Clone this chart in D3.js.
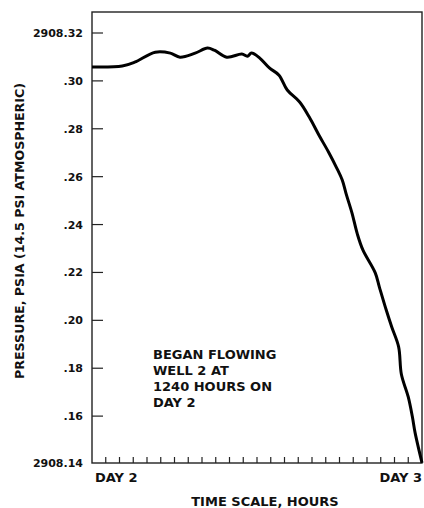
<!DOCTYPE html>
<html>
<head>
<meta charset="utf-8">
<script src="https://cdn.jsdelivr.net/npm/d3@7"></script>
<style>
  html, body { margin: 0; padding: 0; background: #fff; }
  svg { display: block; }
  text { font-family: "DejaVu Sans", "Liberation Sans", sans-serif; font-weight: bold; fill: #111; }
</style>
</head>
<body>
<svg id="chart" width="424" height="508"></svg>
<script>
// Data (hours after start of DAY 2, pressure fraction above 2908 psia)
const hours = [0, 2.2, 3.1, 4.6, 5.7, 6.4, 7.5, 8.4, 8.9, 9.8, 10.9, 11.3, 11.6, 12.2, 12.9, 13.6, 14.2, 15.1, 15.8, 16.5, 17.2, 17.8, 18.2, 18.5, 18.9, 19.3, 19.7, 20.6, 20.9, 21.4, 21.8, 22.3, 22.5, 23.0, 23.3, 23.5, 24.0];
const pressure = [0.3058, 0.3062, 0.3078, 0.3120, 0.3116, 0.3099, 0.3116, 0.3137, 0.3128, 0.3099, 0.3112, 0.3103, 0.3116, 0.3095, 0.3054, 0.3024, 0.2962, 0.2912, 0.2849, 0.2774, 0.2703, 0.2636, 0.2586, 0.2525, 0.2450, 0.2360, 0.2294, 0.2198, 0.2139, 0.2043, 0.1972, 0.1889, 0.1775, 0.1680, 0.1597, 0.1530, 0.1405];
const yTickValues = [0.32, 0.30, 0.28, 0.26, 0.24, 0.22, 0.20, 0.18, 0.16, 0.14];
const yTickLabels = ["2908.32", ".30", ".28", ".26", ".24", ".22", ".20", ".18", ".16", "2908.14"];
const xTickValues = d3.range(1, 24);
const xEndLabels = ["DAY 2", "DAY 3"];
const noteLines = ["BEGAN FLOWING", "WELL 2 AT", "1240 HOURS ON", "DAY 2"];
const xTitle = "TIME SCALE, HOURS";
const yTitle = "PRESSURE, PSIA (14.5 PSI ATMOSPHERIC)";

(function () {
const svg = d3.select("#chart");
const pLeft = 92, pRight = 422, pTop = 12, pBottom = 463;

const x = d3.scaleLinear().domain([0, 24]).range([pLeft, pRight]);
const y = d3.scaleLinear().domain([0.14, 0.32]).range([464, 33]);

// frame
svg.append("rect")
  .attr("x", pLeft).attr("y", pTop)
  .attr("width", pRight - pLeft).attr("height", pBottom - pTop)
  .attr("fill", "none").attr("stroke", "#222").attr("stroke-width", 1.4);

// y ticks (inward)
svg.selectAll(".ytick").data(yTickValues.slice(0, -1)).join("line")
  .attr("class", "ytick")
  .attr("x1", pLeft).attr("x2", pLeft + 11)
  .attr("y1", d => y(d)).attr("y2", d => y(d))
  .attr("stroke", "#222").attr("stroke-width", 1.2);

svg.selectAll(".ylab").data(yTickValues).join("text")
  .attr("class", "ylab")
  .attr("x", 83)
  .attr("y", (d, i) => i === yTickValues.length - 1 ? pBottom : y(d))
  .attr("dy", "0.36em")
  .attr("text-anchor", "end")
  .attr("font-size", 11)
  .text((d, i) => yTickLabels[i]);

// x ticks (inward, upward)
svg.selectAll(".xtick").data(xTickValues).join("line")
  .attr("class", "xtick")
  .attr("x1", d => x(d)).attr("x2", d => x(d))
  .attr("y1", pBottom).attr("y2", pBottom - 6)
  .attr("stroke", "#222").attr("stroke-width", 1.2);

svg.append("text").attr("x", x(0) + 3).attr("y", 482)
  .attr("font-size", 13).text(xEndLabels[0]);
svg.append("text").attr("x", x(24)).attr("y", 482)
  .attr("text-anchor", "end").attr("font-size", 13).text(xEndLabels[1]);

svg.append("text").attr("x", 265).attr("y", 506)
  .attr("text-anchor", "middle").attr("font-size", 13).text(xTitle);

svg.append("text")
  .attr("transform", "translate(24,231) rotate(-90)")
  .attr("text-anchor", "middle").attr("font-size", 12.6).text(yTitle);

// note
svg.append("text").attr("x", 153).attr("y", 359)
  .attr("font-size", 13)
  .selectAll("tspan").data(noteLines).join("tspan")
  .attr("x", 153).attr("dy", (d, i) => i === 0 ? 0 : 16)
  .text(d => d);

// curve
const line = d3.line()
  .x((d, i) => x(hours[i]))
  .y(d => y(d))
  .curve(d3.curveCatmullRom.alpha(0.5));

svg.append("path")
  .datum(pressure)
  .attr("d", line)
  .attr("fill", "none")
  .attr("stroke", "#000")
  .attr("stroke-width", 3)
  .attr("stroke-linejoin", "round");
})();
</script>
</body>
</html>
